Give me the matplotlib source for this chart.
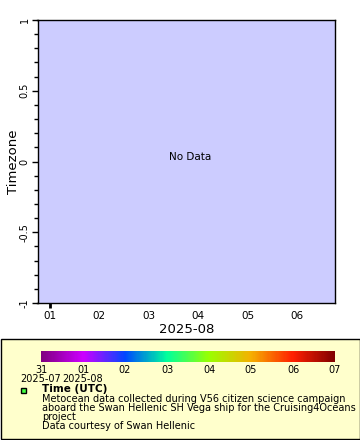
#!/usr/bin/env python3
"""Empty timezone vs time panel with a time colour bar and data-source legend."""
import matplotlib
matplotlib.use("Agg")
import matplotlib.pyplot as plt
from matplotlib.colors import LinearSegmentedColormap, Normalize
from matplotlib.cm import ScalarMappable
from matplotlib.patches import Rectangle
import numpy as np

W, H = 360, 440

# axis content
x_days = [1, 2, 3, 4, 5, 6]
x_labels = ["01", "02", "03", "04", "05", "06"]
x_title = "2025-08"
y_ticks = [-1, -0.5, 0, 0.5, 1]
y_labels = ["-1", "-0.5", "0", "0.5", "1"]
y_title = "Timezone"

# colour bar: days since 31 July
cb_days = [0, 1, 2, 3, 4, 5, 6, 7]
cb_labels = ["31\n2025-07", "01\n2025-08", "02", "03", "04", "05", "06", "07"]
cb_colors = ["#800080", "#cc00ff", "#0048ff", "#00ff9c", "#99ff00",
             "#f5b000", "#ff2000", "#800000"]

legend_title = "Time (UTC)"
legend_lines = [
    "Metocean data collected during V56 citizen science campaign",
    "aboard the Swan Hellenic SH Vega ship for the Cruising4Oceans",
    "project",
    "Data courtesy of Swan Hellenic",
]


def px_axes(fig, x0, y0, x1, y1):
    """Axes from pixel box (top-left origin)."""
    return fig.add_axes([x0 / W, 1 - y1 / H, (x1 - x0) / W, (y1 - y0) / H])


fig = plt.figure(figsize=(W / 100, H / 100), dpi=100)
plt.rcParams["font.family"] = ["DejaVu Sans"]

# legend box (behind everything)
fig.patches.append(Rectangle((0.5 / W, 1 - 438.5 / H), 359 / W, 100 / H,
                             transform=fig.transFigure, facecolor="#ffffcc",
                             edgecolor="black", lw=1, zorder=-5))

# main panel
ax = px_axes(fig, 37.5, 20, 335, 303)
ax.set_facecolor("#ccccff")
ax.set_xlim(0.75, 6.77)
ax.set_ylim(-1, 1)
ax.set_xticks(x_days)
ax.set_xticklabels(x_labels, fontsize=7.5)
ax.tick_params(axis="x", length=0, pad=6)
ax.plot([x_days[0], x_days[0]], [-1.0, -1.035], color="black", lw=2,
        clip_on=False, solid_capstyle="butt")
ax.set_yticks(y_ticks)
ax.set_yticklabels(y_labels, fontsize=7, rotation=90, va="center")
ax.set_yticks(np.arange(-1, 1.01, 0.1), minor=True)
ax.tick_params(axis="y", which="major", length=4, width=1, pad=1.5)
ax.tick_params(axis="y", which="minor", length=3, width=1)
ax.set_xlabel(x_title, fontsize=9.5, labelpad=1)
ax.set_ylabel(y_title, fontsize=9.5)
ax.yaxis.set_label_coords(-0.06, 0.5)
for s in ax.spines.values():
    s.set_linewidth(1)
ax.text(0.513, 0.516, "No Data", transform=ax.transAxes, fontsize=7.5,
        ha="center", va="center")

# colour bar
cax = px_axes(fig, 41, 351, 335, 362)
cmap = LinearSegmentedColormap.from_list(
    "tz", list(zip(np.linspace(0, 1, len(cb_colors)), cb_colors)))
sm = ScalarMappable(norm=Normalize(cb_days[0], cb_days[-1]), cmap=cmap)
cb = fig.colorbar(sm, cax=cax, orientation="horizontal")
cb.set_ticks(cb_days)
cb.set_ticklabels(cb_labels)
cb.ax.tick_params(labelsize=7, length=0, pad=2)
for t in cb.ax.get_xticklabels():
    t.set_linespacing(0.95)
cb.outline.set_visible(False)

# legend entry
fig.patches.append(Rectangle((20.5 / W, 1 - 392.5 / H), 5 / W, 5 / H,
                             transform=fig.transFigure, facecolor="#44ff44",
                             edgecolor="black", lw=1))
fig.text(42 / W, 1 - 389 / H, legend_title, fontsize=7.5, fontweight="bold",
         va="center")
for i, line in enumerate(legend_lines):
    fig.text(42 / W, 1 - (399 + 9 * i) / H, line, fontsize=7.05, va="center")

fig.savefig("out.png", dpi=100)
